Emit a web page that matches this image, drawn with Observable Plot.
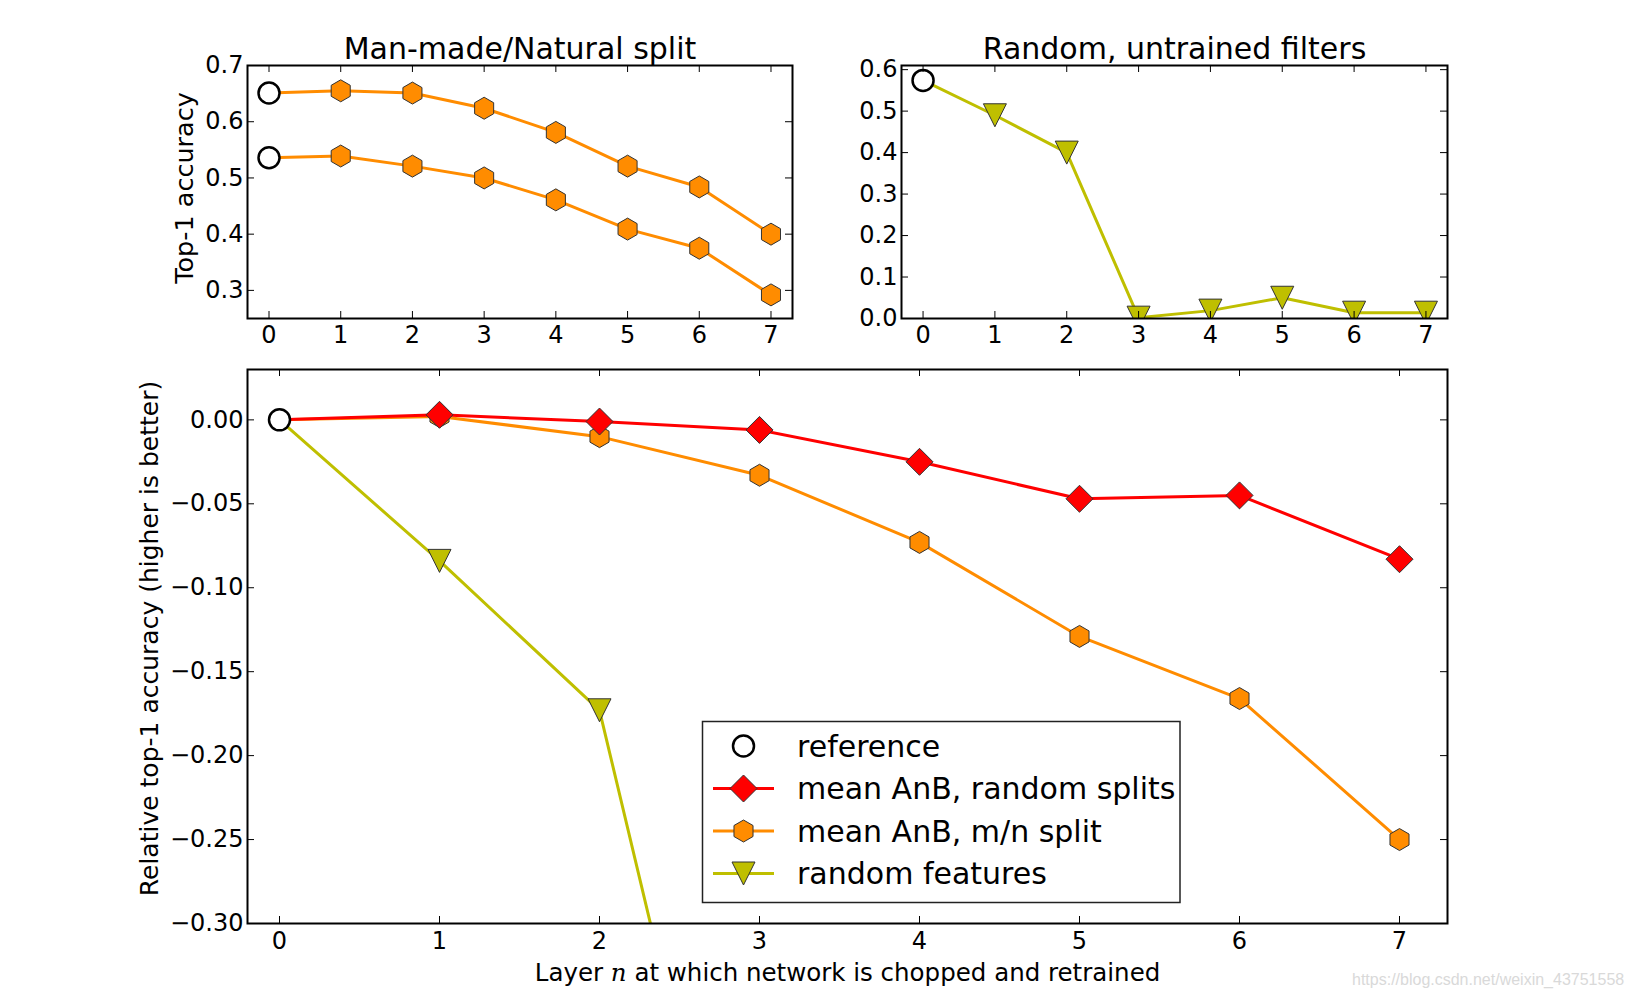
<!DOCTYPE html>
<html><head><meta charset="utf-8">
<script src="https://cdn.jsdelivr.net/npm/d3@7"></script>
<script src="https://cdn.jsdelivr.net/npm/@observablehq/plot@0.6"></script>
<style>
html,body{margin:0;padding:0;background:#fff;}
#wrap{position:relative;width:1632px;height:1000px;overflow:hidden;font-family:"DejaVu Sans",sans-serif;}
#wrap > svg, #wrap > div{position:absolute;}
</style></head><body><div id="wrap"></div>
<script>
// ---- data ----
const layers = [0, 1, 2, 3, 4, 5, 6, 7];
const xTickLabels = ["0", "1", "2", "3", "4", "5", "6", "7"];
// top-left: Man-made/Natural split (layer 0 = reference)
const manMadeAcc = [0.651, 0.655, 0.651, 0.624, 0.581, 0.521, 0.484, 0.400];
const naturalAcc = [0.536, 0.539, 0.521, 0.500, 0.461, 0.409, 0.375, 0.292];
// top-right: Random, untrained filters (layer 0 = reference)
const randomFiltersAcc = [0.574, 0.490, 0.400, 0.002, 0.019, 0.050, 0.014, 0.014];
// bottom: relative top-1 accuracy
const relRandomSplits = [0.000, 0.003, -0.001, -0.006, -0.025, -0.047, -0.045, -0.083];
const relMnSplit = [0.000, 0.002, -0.010, -0.033, -0.073, -0.129, -0.166, -0.250];
const relRandomFeatures = [0.000, -0.084, -0.173, -0.572, -0.555, -0.524, -0.560, -0.560];
const yTicksTL = [0.3, 0.4, 0.5, 0.6, 0.7];
const yTicksTR = [0.0, 0.1, 0.2, 0.3, 0.4, 0.5, 0.6];
const yTicksB = [0.00, -0.05, -0.10, -0.15, -0.20, -0.25, -0.30];
const legendLabels = ["reference", "mean AnB, random splits", "mean AnB, m/n split", "random features"];

// ---- styles ----
const ORANGE = "#ff8c00", RED = "#ff0000", OLIVE = "#bfbf00", EDGE = "#333333";
const FONT = "DejaVu Sans";

// matplotlib-like marker shapes
const hexSym = {draw(ctx, size) { const R = Math.sqrt(size / Math.PI), w = R * Math.sqrt(3) / 2;
  ctx.moveTo(0, -R); ctx.lineTo(w, -R / 2); ctx.lineTo(w, R / 2); ctx.lineTo(0, R); ctx.lineTo(-w, R / 2); ctx.lineTo(-w, -R / 2); ctx.closePath(); }};
const diamondSym = {draw(ctx, size) { const R = Math.sqrt(size / Math.PI);
  ctx.moveTo(0, -R); ctx.lineTo(R, 0); ctx.lineTo(0, R); ctx.lineTo(-R, 0); ctx.closePath(); }};
const triDownSym = {draw(ctx, size) { const R = Math.sqrt(size / Math.PI);
  ctx.moveTo(0, R); ctx.lineTo(-R, -R); ctx.lineTo(R, -R); ctx.closePath(); }};

const rows = (vals) => layers.map((l, i) => ({layer: l, v: vals[i]}));

function panel({width, height, ml, mr, mt, mb, xDomain, yDomain, yTicks, yFormat, marks, xPad}) {
  const iw = width - ml - mr, ih = height - mt - mb, tl = 7;
  return Plot.plot({
    width, height, marginLeft: ml, marginRight: mr, marginTop: mt, marginBottom: mb,
    x: {domain: xDomain}, y: {domain: yDomain},
    style: {fontFamily: FONT, fontSize: "24px", background: "transparent", overflow: "visible", color: "black"},
    marks: [
      ...marks,
      Plot.tickX(layers, {x: d => d, insetTop: ih - tl, stroke: "black", strokeWidth: 1}),
      Plot.tickX(layers, {x: d => d, insetBottom: ih - tl, stroke: "black", strokeWidth: 1}),
      Plot.tickY(yTicks, {y: d => d, insetRight: iw - tl, stroke: "black", strokeWidth: 1}),
      Plot.tickY(yTicks, {y: d => d, insetLeft: iw - tl, stroke: "black", strokeWidth: 1}),
      Plot.axisX({ticks: layers, tickSize: 0, tickPadding: xPad, tickFormat: (d) => xTickLabels[layers.indexOf(d)], label: null}),
      Plot.axisY({ticks: yTicks, tickSize: 0, tickPadding: 4, tickFormat: d3.format(yFormat), label: null}),
      Plot.frame({stroke: "black", strokeWidth: 2})
    ]
  });
}

const wrap = document.getElementById("wrap");

// ---- top-left ----
const A = panel({
  width: 800, height: 360, ml: 247, mr: 8, mt: 65, mb: 42,
  xDomain: [-0.3, 7.3], yDomain: [0.25, 0.7], yTicks: yTicksTL, yFormat: ".1f", xPad: 7,
  marks: [
    Plot.line(rows(manMadeAcc), {x: "layer", y: "v", stroke: ORANGE, strokeWidth: 3, clip: true}),
    Plot.line(rows(naturalAcc), {x: "layer", y: "v", stroke: ORANGE, strokeWidth: 3, clip: true}),
    Plot.dot(rows(manMadeAcc).slice(1), {x: "layer", y: "v", symbol: hexSym, r: 11, fill: ORANGE, stroke: EDGE, strokeWidth: 1, clip: true}),
    Plot.dot(rows(naturalAcc).slice(1), {x: "layer", y: "v", symbol: hexSym, r: 11, fill: ORANGE, stroke: EDGE, strokeWidth: 1, clip: true}),
    Plot.dot([rows(manMadeAcc)[0], rows(naturalAcc)[0]], {x: "layer", y: "v", r: 10.5, fill: "white", stroke: "black", strokeWidth: 2.5}),
    Plot.text(["Man-made/Natural split"], {frameAnchor: "top", dy: -16, fontSize: 30, lineAnchor: "middle", textAnchor: "middle"}),
    Plot.text(["Top-1 accuracy"], {frameAnchor: "left", rotate: -90, dx: -63, dy: -4, fontSize: 25.5, lineAnchor: "middle", textAnchor: "middle"})
  ]
});
A.style.left = "0px"; A.style.top = "0px";
wrap.appendChild(A);

// ---- top-right ----
const B = panel({
  width: 640, height: 360, ml: 81, mr: 13, mt: 65, mb: 42,
  xDomain: [-0.3, 7.3], yDomain: [0, 0.61], yTicks: yTicksTR, yFormat: ".1f", xPad: 7,
  marks: [
    Plot.line(rows(randomFiltersAcc), {x: "layer", y: "v", stroke: OLIVE, strokeWidth: 3, clip: true}),
    Plot.dot(rows(randomFiltersAcc).slice(1), {x: "layer", y: "v", symbol: triDownSym, r: 11.5, fill: OLIVE, stroke: EDGE, strokeWidth: 1, clip: true}),
    Plot.dot([rows(randomFiltersAcc)[0]], {x: "layer", y: "v", r: 10.5, fill: "white", stroke: "black", strokeWidth: 2.5}),
    Plot.text(["Random, untrained filters"], {frameAnchor: "top", dy: -16, fontSize: 30, lineAnchor: "middle", textAnchor: "middle"})
  ]
});
B.style.left = "820px"; B.style.top = "0px";
wrap.appendChild(B);

// ---- bottom ----
const XLABEL = "Layer n at which network is chopped and retrained";
const C = panel({
  width: 1632, height: 640, ml: 247, mr: 185, mt: 9, mb: 77,
  xDomain: [-0.2, 7.3], yDomain: [-0.30, 0.03], yTicks: yTicksB, yFormat: ".2f", xPad: 8,
  marks: [
    Plot.line(rows(relMnSplit), {x: "layer", y: "v", stroke: ORANGE, strokeWidth: 3, clip: true}),
    Plot.dot(rows(relMnSplit).slice(1), {x: "layer", y: "v", symbol: hexSym, r: 11, fill: ORANGE, stroke: EDGE, strokeWidth: 1, clip: true}),
    Plot.line(rows(relRandomSplits), {x: "layer", y: "v", stroke: RED, strokeWidth: 3, clip: true}),
    Plot.dot(rows(relRandomSplits).slice(1), {x: "layer", y: "v", symbol: diamondSym, r: 13.5, fill: RED, stroke: EDGE, strokeWidth: 1, clip: true}),
    Plot.line(rows(relRandomFeatures), {x: "layer", y: "v", stroke: OLIVE, strokeWidth: 3, clip: true}),
    Plot.dot(rows(relRandomFeatures).slice(1), {x: "layer", y: "v", symbol: triDownSym, r: 11.5, fill: OLIVE, stroke: EDGE, strokeWidth: 1, clip: true}),
    Plot.dot([rows(relRandomSplits)[0]], {x: "layer", y: "v", r: 10.5, fill: "white", stroke: "black", strokeWidth: 2.5}),
    Plot.text(["Relative top-1 accuracy (higher is better)"], {frameAnchor: "left", rotate: -90, dx: -98, dy: -8, fontSize: 25, lineAnchor: "middle", textAnchor: "middle"}),
    Plot.text([XLABEL], {frameAnchor: "bottom", dy: 50, fontSize: 24.5, lineAnchor: "middle", textAnchor: "middle"})
  ]
});
C.style.left = "0px"; C.style.top = "360px";
wrap.appendChild(C);

// italic math "n" in x label
const xl = Array.from(C.querySelectorAll("text")).find(t => t.textContent === XLABEL);
if (xl) {
  const parts = XLABEL.split(" n ");
  xl.textContent = "";
  const ns = "http://www.w3.org/2000/svg";
  const t1 = document.createElementNS(ns, "tspan"); t1.textContent = parts[0] + " ";
  const t2 = document.createElementNS(ns, "tspan"); t2.textContent = "n";
  t2.setAttribute("font-family", "DejaVu Serif"); t2.setAttribute("font-style", "italic");
  const t3 = document.createElementNS(ns, "tspan"); t3.textContent = " " + parts[1];
  xl.append(t1, t2, t3);
}

// ---- legend (inside bottom panel) ----
const lg = d3.select(wrap).append("svg")
  .attr("width", 1632).attr("height", 1000)
  .style("left", "0px").style("top", "0px").style("pointer-events", "none");
lg.append("rect").attr("x", 702.5).attr("y", 721.5).attr("width", 477.5).attr("height", 181)
  .attr("fill", "white").attr("stroke", "#222").attr("stroke-width", 1.5);
const legendRows = [
  {line: null, sym: null},
  {line: RED, sym: diamondSym, r: 13.5, fill: RED},
  {line: ORANGE, sym: hexSym, r: 11, fill: ORANGE},
  {line: OLIVE, sym: triDownSym, r: 11.5, fill: OLIVE}
];
legendRows.forEach((row, i) => {
  const y = 746 + i * 42.5;
  const g = lg.append("g");
  if (row.line) g.append("line").attr("x1", 713).attr("x2", 774).attr("y1", y).attr("y2", y)
    .attr("stroke", row.line).attr("stroke-width", 3);
  if (row.sym) {
    const p = d3.path(); row.sym.draw(p, row.r * row.r * Math.PI);
    g.append("path").attr("d", p.toString()).attr("transform", `translate(743.5,${y})`)
      .attr("fill", row.fill).attr("stroke", EDGE).attr("stroke-width", 1);
  } else {
    g.append("circle").attr("cx", 743.5).attr("cy", y).attr("r", 10.5)
      .attr("fill", "white").attr("stroke", "black").attr("stroke-width", 2.5);
  }
  g.append("text").attr("x", 797).attr("y", y).attr("dy", "0.35em")
    .attr("font-family", FONT).attr("font-size", 30).attr("fill", "black").text(legendLabels[i]);
});

// watermark
const wm = document.createElement("div");
wm.textContent = "https://blog.csdn.net/weixin_43751558";
Object.assign(wm.style, {left: "1352px", top: "971px", fontFamily: "'Liberation Sans', Arial, sans-serif", fontSize: "16px", color: "#d9d9d9", whiteSpace: "nowrap"});
wrap.appendChild(wm);
</script>
</body></html>
